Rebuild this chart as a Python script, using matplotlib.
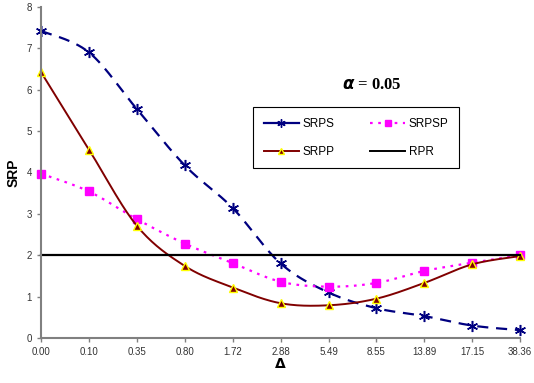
import numpy as np
import matplotlib.pyplot as plt

plt.rcParams['font.family'] = ['Liberation Sans', 'DejaVu Sans']

# data
categories = ["0.00", "0.10", "0.35", "0.80", "1.72", "2.88", "5.49", "8.55", "13.89", "17.15", "38.36"]
srps = [7.42, 6.90, 5.53, 4.17, 3.14, 1.80, 1.10, 0.72, 0.53, 0.30, 0.19]
srpsp = [3.97, 3.54, 2.87, 2.28, 1.81, 1.36, 1.24, 1.33, 1.62, 1.82, 2.00]
srpp = [6.42, 4.55, 2.71, 1.74, 1.22, 0.84, 0.79, 0.95, 1.33, 1.78, 1.98]
rpr = [2.0] * len(categories)


def smooth(x, y, n=30):
    # excel-style smoothed line (catmull-rom through the points)
    x = np.asarray(x, float)
    y = np.asarray(y, float)
    px = np.concatenate([[x[0]], x, [x[-1]]])
    py = np.concatenate([[y[0]], y, [y[-1]]])
    xs, ys = [], []
    t = np.linspace(0, 1, n)
    for i in range(1, len(px) - 2):
        p0, p1, p2, p3 = [np.array([px[j], py[j]]) for j in (i - 1, i, i + 1, i + 2)]
        c1 = p1 + (p2 - p0) / 6
        c2 = p2 - (p3 - p1) / 6
        b = ((1 - t) ** 3)[:, None] * p1 + (3 * (1 - t) ** 2 * t)[:, None] * c1 \
            + (3 * (1 - t) * t ** 2)[:, None] * c2 + (t ** 3)[:, None] * p2
        xs.extend(b[:, 0])
        ys.extend(b[:, 1])
    return xs, ys


x = np.arange(len(categories))

fig = plt.figure(figsize=(5.34, 3.83), dpi=100)
ax = fig.add_axes([0.077, 0.1175, 0.897, 0.8645])

dash = (0, (5, 3.5))
dots = (0, (1.2, 2.5))

sx, sy = smooth(x, srps)
ax.plot(sx, sy, color='#000080', lw=1.6, ls=dash)
ax.plot(x, srps, ls='none', marker=(6, 2, 0), ms=8, mec='#000080', mew=1.1)

sx, sy = smooth(x, srpsp)
ax.plot(sx, sy, color='#FF00FF', lw=1.6, ls=dots)
ax.plot(x, srpsp, ls='none', marker='s', ms=6, mfc='#FF00FF', mec='#FF00FF')

sx, sy = smooth(x, srpp)
ax.plot(sx, sy, color='#800000', lw=1.4)
ax.plot(x, srpp, ls='none', marker='^', ms=5.5, mfc='#800000', mec='#FFFF00', mew=1)

ax.plot(x, rpr, color='black', lw=1.6)

# legend proxies
h1, = ax.plot([], [], color='#000080', lw=1.6, marker=(6, 2, 0), ms=6, mec='#000080')
h2, = ax.plot([], [], color='#FF00FF', lw=1.6, ls=dots, marker='s', ms=5)
h3, = ax.plot([], [], color='#800000', lw=1.4, marker='^', ms=5, mfc='#800000', mec='#FFFF00')
h4, = ax.plot([], [], color='black', lw=1.4)
leg = ax.legend([h1, h3, h2, h4], ['SRPS', 'SRPP', 'SRPSP', 'RPR'], ncol=2,
                loc='upper left', bbox_to_anchor=(0.43, 0.715), fontsize=8.5,
                fancybox=False, edgecolor='black', framealpha=1, handlelength=3,
                columnspacing=3.0, labelspacing=1.35, borderpad=0.9, handletextpad=0.3)
leg.get_frame().set_linewidth(0.8)

ax.text(0.69, 0.764, r'$\boldsymbol{\alpha}$ = 0.05', transform=ax.transAxes, fontsize=12,
        fontweight='bold', ha='center', va='center', family='Liberation Serif')

ax.set_xlim(0, 10)
ax.set_ylim(0, 8)
ax.set_xticks(x)
ax.set_xticklabels(categories)
ax.set_yticks(range(9))
ax.tick_params(labelsize=7, length=3, color='#808080', width=1, labelcolor='#333333')
ax.set_ylabel('SRP', fontsize=10, fontweight='bold', labelpad=4)
ax.set_xlabel(r'$\mathbf{\Delta}$', fontsize=10, labelpad=0)
for s in ['top', 'right']:
    ax.spines[s].set_visible(False)
for s in ['left', 'bottom']:
    ax.spines[s].set_color('#808080')
    ax.spines[s].set_linewidth(1.5)
for m in ax.lines:
    m.set_clip_on(False)

fig.savefig('out.png', dpi=100)
